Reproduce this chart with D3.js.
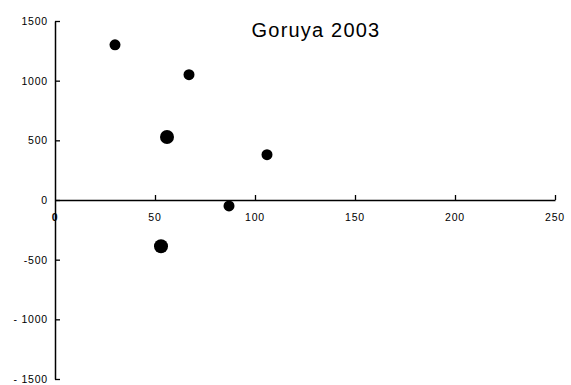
<!DOCTYPE html>
<html>
<head>
<meta charset="utf-8">
<script src="https://cdn.jsdelivr.net/npm/d3@7"></script>
<style>
  html, body { margin: 0; padding: 0; background: #fff; }
  svg { display: block; }
  text { font-family: "Liberation Sans", Arial, sans-serif; fill: #000; }
</style>
</head>
<body>
<svg id="chart" width="571" height="385"></svg>
<script>
// Observations (x, y) and marker radius
const xValues = [30, 67, 56, 106, 87, 53];
const yValues = [1300, 1050, 528, 380, -50, -388];
const markerSizes = [5.5, 5.5, 7, 5.5, 5.5, 7];

const xTicks = [0, 50, 100, 150, 200, 250];
const xTickLabels = ["0", "50", "100", "150", "200", "250"];
const yTicks = [1500, 1000, 500, 0, -500, -1000, -1500];
const yTickLabels = ["1500", "1000", "500", "0", "-500", "- 1000", "- 1500"];
const title = "Goruya 2003";

const svg = d3.select("#chart");

const x = d3.scaleLinear().domain([0, 250]).range([55, 555]);
const y = d3.scaleLinear().domain([-1500, 1500]).range([379, 21]);

// Y axis line with inward ticks
const yAxis = svg.append("g").attr("transform", `translate(${x(0)},0)`)
  .call(d3.axisRight(y).tickValues(yTicks).tickSize(5).tickSizeOuter(0).tickFormat(""));
yAxis.select(".domain").attr("stroke", "#000").attr("stroke-width", 1.5);
yAxis.selectAll(".tick line").attr("stroke", "#000").attr("stroke-width", 1.3);

// Y tick labels to the left of the axis
svg.append("g").selectAll("text").data(yTicks).join("text")
  .attr("x", 48)
  .attr("y", d => y(d) + 4)
  .attr("text-anchor", "end")
  .style("font-size", "10.5px")
  .style("letter-spacing", "0.8px")
  .text((d, i) => yTickLabels[i]);

// X axis line through zero with upward ticks
const xAxis = svg.append("g").attr("transform", `translate(0,${y(0)})`)
  .call(d3.axisTop(x).tickValues(xTicks.slice(1)).tickSize(5).tickSizeOuter(0).tickFormat(""));
xAxis.select(".domain").attr("stroke", "#000").attr("stroke-width", 1.5);
xAxis.selectAll(".tick line").attr("stroke", "#000").attr("stroke-width", 1.3);

svg.append("g").selectAll("text").data(xTicks).join("text")
  .attr("x", d => x(d))
  .attr("y", y(0) + 21)
  .attr("text-anchor", "middle")
  .style("font-size", "10.5px")
  .style("letter-spacing", "0.8px")
  .style("font-weight", d => d === 0 ? "bold" : "normal")
  .text((d, i) => xTickLabels[i]);

// Data points
svg.append("g").selectAll("circle").data(xValues).join("circle")
  .attr("cx", d => x(d))
  .attr("cy", (d, i) => y(yValues[i]))
  .attr("r", (d, i) => markerSizes[i])
  .attr("fill", "#000");

// Title
svg.append("text")
  .attr("x", 316)
  .attr("y", 37)
  .attr("text-anchor", "middle")
  .style("font-size", "20px")
  .style("letter-spacing", "1.2px")
  .text(title);
</script>
</body>
</html>
